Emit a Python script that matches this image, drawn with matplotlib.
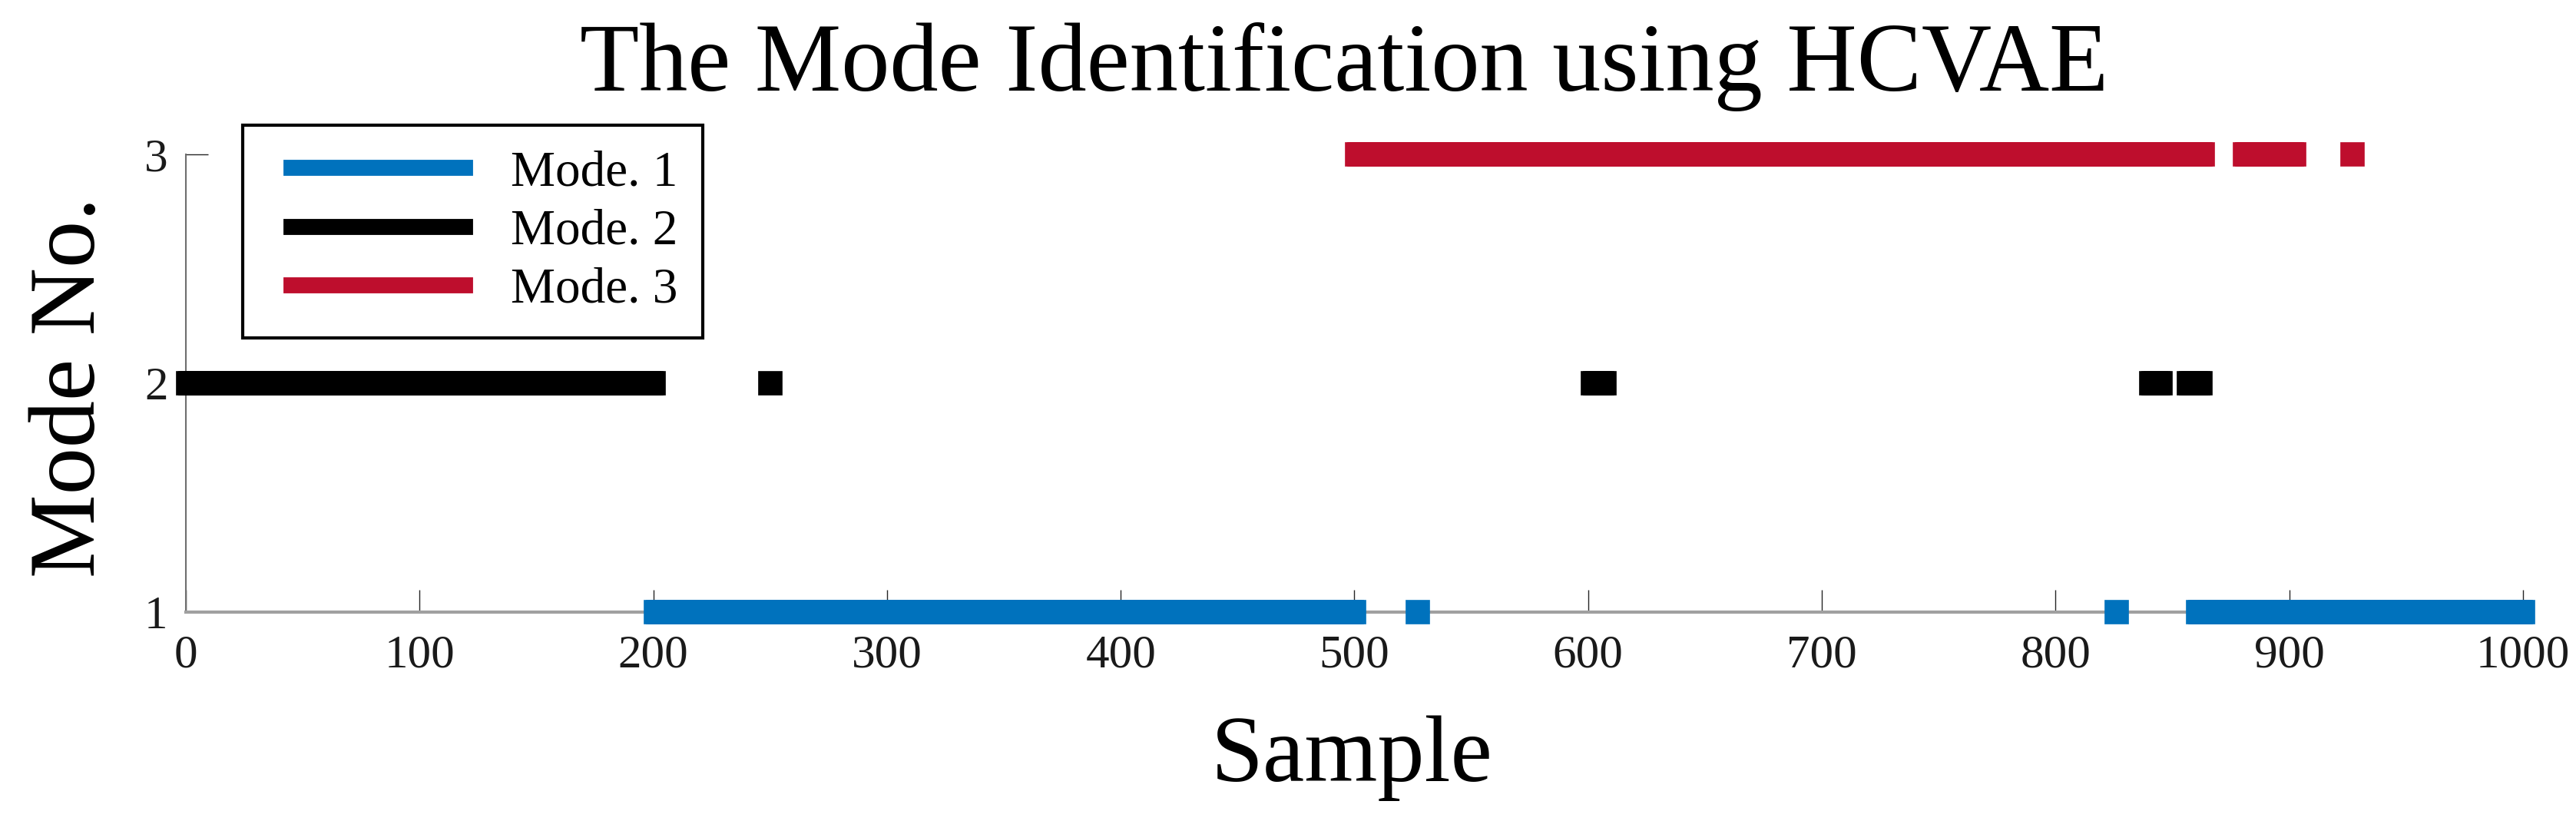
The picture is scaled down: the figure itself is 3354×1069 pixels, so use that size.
import numpy as np
import matplotlib.pyplot as plt
from matplotlib.lines import Line2D
from matplotlib.legend_handler import HandlerLine2D

plt.rcParams['font.family'] = ['Liberation Serif', 'DejaVu Serif']

# runs of consecutive samples (start, end) assigned to each mode
mode1_runs = [(201, 500), (527, 527), (826, 826), (861, 1000)]
mode2_runs = [(1, 200), (250, 250), (602, 607), (841, 845), (857, 862)]
mode3_runs = [(501, 863), (881, 902), (927, 927)]

mode_labels = ['Mode. 1', 'Mode. 2', 'Mode. 3']
mode_colors = ['#0072BD', '#000000', '#BE0E2D']
x_ticks = [0, 100, 200, 300, 400, 500, 600, 700, 800, 900, 1000]
y_ticks = [1, 2, 3]

W, H = 3355, 1069
fig = plt.figure(figsize=(W / 100, H / 100), dpi=100)
ax = fig.add_axes([242 / W, 1 - 797 / H, (3285 - 242) / W, (797 - 201) / H])

all_runs = [mode1_runs, mode2_runs, mode3_runs]
for mode, (runs, col) in enumerate(zip(all_runs, mode_colors), start=1):
    xs = np.concatenate([np.arange(a, b + 1) for a, b in runs])
    ax.plot(xs, np.full(len(xs), mode), ls='none', marker='s', ms=22,
            mfc=col, mec=col, mew=1.2, clip_on=False, zorder=3)

ax.set_xlim(0, 1000)
ax.set_ylim(1, 3)
ax.set_xticks(x_ticks)
ax.set_yticks(y_ticks)

ax.spines['top'].set_visible(False)
ax.spines['right'].set_visible(False)
ax.spines['bottom'].set_color('#a0a0a0')
ax.spines['bottom'].set_linewidth(3)
ax.spines['left'].set_color('#6e6e6e')
ax.spines['left'].set_linewidth(1.5)

ax.tick_params(direction='in', length=21, width=1, color='#262626',
               labelsize=44, labelcolor='#1a1a1a')
ax.tick_params(axis='x', pad=21)
ax.tick_params(axis='y', pad=17)

# legend: thick line handles, shifted a bit right inside the box
handles = [Line2D([], [], color=c, lw=15) for c in mode_colors]
leg = ax.legend(handles, mode_labels, loc='upper left',
                bbox_to_anchor=(316 / W, 1 - 163 / H), bbox_transform=fig.transFigure,
                fontsize=47, handlelength=3.92, handletextpad=0.92, borderpad=0.5,
                labelspacing=0.25, fancybox=False, edgecolor='black', borderaxespad=0,
                framealpha=1, handler_map={Line2D: HandlerLine2D(xpad=0.46)})
leg.get_frame().set_linewidth(3)

fig.text(1750 / W, 1 - 118 / H, 'The Mode Identification using HCVAE',
         ha='center', va='baseline', fontsize=91)
fig.text(1760 / W, 1 - 1017 / H, 'Sample', ha='center', va='baseline', fontsize=88)
fig.text(123 / W, 1 - 504 / H, 'Mode No.', rotation=90, rotation_mode='anchor',
         ha='center', va='baseline', fontsize=88)

fig.savefig('out.png', dpi=100)
